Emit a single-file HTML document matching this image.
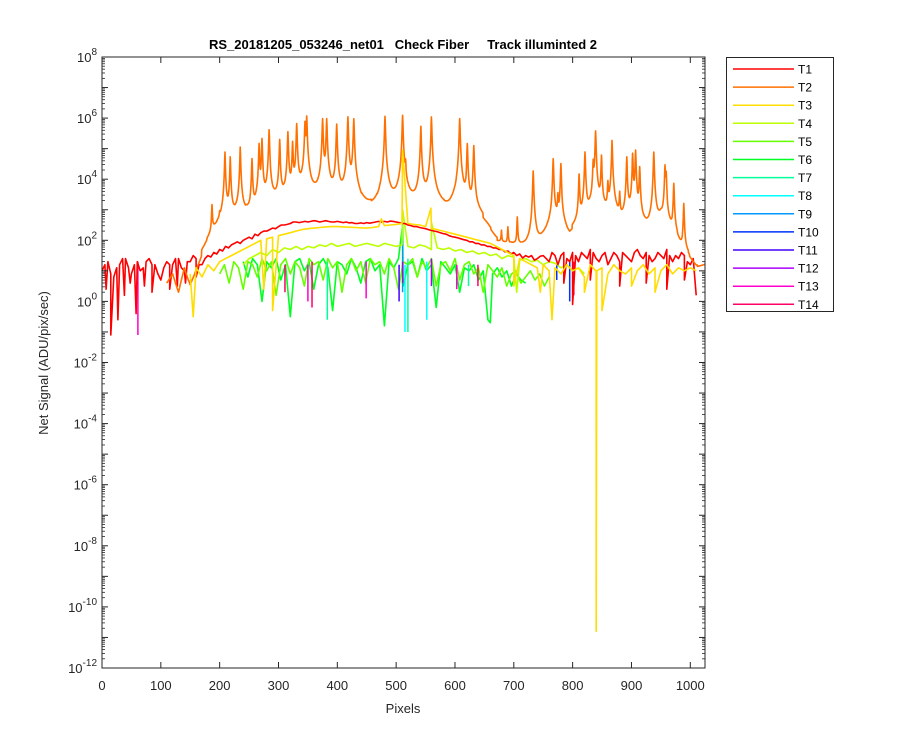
<!DOCTYPE html>
<html><head><meta charset="utf-8">
<style>
body{margin:0;background:#fff;}
svg text{font-family:"Liberation Sans",Arial,sans-serif;}
</style></head>
<body>
<svg id="chart" width="900" height="750" viewBox="0 0 900 750" xmlns="http://www.w3.org/2000/svg">
<rect width="900" height="750" fill="#fff"/>
<rect x="102" y="57" width="603" height="611" fill="#fff"/>
<g id="series"></g>
<g id="axes"></g>
<text x="403" y="49" text-anchor="middle" font-size="13" font-weight="bold" fill="#000" xml:space="preserve">RS_20181205_053246_net01   Check Fiber     Track illuminted 2</text>
<text x="403" y="713" text-anchor="middle" font-size="13" fill="#262626">Pixels</text>
<text x="0" y="0" transform="translate(48,363) rotate(-90)" text-anchor="middle" font-size="13" fill="#262626">Net Signal (ADU/pix/sec)</text>
<g id="legend"></g>
</svg>
<script>
// ---- data (log10 of signal) ----
const seriesNames=["T1","T2","T3","T4","T5","T6","T7","T8","T9","T10","T11","T12","T13","T14"];
const seriesColors=["#ff0000","#ff7000","#ffdd00","#bbff00","#66ff00","#00ff22","#00ff99","#00ffff","#0099ff","#0033ff","#4400ff","#aa00ff","#ff00cc","#ff0066"];
const xTicks=[0,100,200,300,400,500,600,700,800,900,1000];
const yTickExps=[8,6,4,2,0,-2,-4,-6,-8,-10,-12];

const t1Start=0, t1Step=5;
const t1Vals=[1.0,1.2,1.3,0.9,0.8,1.1,1.2,1.4,1.4,1.1,0.9,1.2,1.3,1.0,1.1,1.3,1.4,1.2,1.2,0.9,0.7,1.1,1.3,1.2,1.2,1.4,1.4,1.1,1.0,1.3,1.3,1.5,1.4,1.2,1.2,1.4,
1.5,1.45,1.6,1.55,1.7,1.65,1.8,1.75,1.85,1.9,1.95,1.9,2.0,2.05,2.1,2.05,2.2,2.15,2.25,2.3,2.3,2.35,2.4,2.38,2.45,2.5,2.5,2.52,2.55,2.6,2.6,2.58,2.6,
2.62,2.6,2.62,2.64,2.63,2.6,2.62,2.64,2.62,2.6,2.6,2.62,2.6,2.58,2.6,2.57,2.58,2.55,2.55,2.57,2.55,2.58,2.56,2.58,2.6,2.62,2.6,2.62,2.6,2.63,2.62,2.6,2.58,2.55,2.55,
2.5,2.48,2.45,2.45,2.42,2.4,2.38,2.35,2.32,2.3,2.28,2.25,2.22,2.2,2.15,2.12,2.1,2.08,2.05,2.02,2.0,1.95,1.95,1.9,1.9,1.85,1.85,1.8,1.8,1.75,1.75,1.7,1.7,1.62,1.65,1.55,1.6,1.5,1.55,1.42,1.5,1.45,1.5,1.35,1.4,1.48,
1.5,1.4,1.3,1.6,1.5,1.2,1.5,1.6,1.4,1.3,1.6,1.5,1.3,1.6,1.5,1.4,1.7,1.6,1.4,1.3,1.5,1.6,1.2,1.4,1.6,1.5,1.3,1.6,1.5,1.4,1.3,1.6,1.7,1.5,1.4,1.6,1.5,1.3,1.4,1.6,1.5,1.4,1.7,1.5,1.3,1.5,1.4,1.6,1.5,1.3,1.2,1.4];
const t1SpikeX=[7,15,27,38,48,58,72,85,100,115,128,142,160,785,800,830,880,925,960,990,1010];
const t1SpikeV=[0.4,-1.1,-0.6,0.2,0.6,-0.4,0.5,0.3,0.7,0.4,0.5,0.6,0.8,0.6,-0.1,0.7,0.5,0.6,0.4,0.7,0.2];

const t2BaseX=[110,120,130,140,150,160,170,180,190,200,210,230,255,280,300,330,360,390,410,440,455,470,495,525,550,575,590,610,640,655,670,695,720,742,760,772,787,795,810,829,850,882,900,930,950,975,985,1000,1010,1025];
const t2BaseV=[0.6,0.9,0.3,1.1,0.5,1.0,1.5,1.9,2.3,2.4,2.6,2.8,2.7,3.1,3.2,3.2,3.2,3.2,3.0,2.9,2.9,3.0,3.1,3.1,3.1,2.9,2.75,2.9,2.6,2.4,2.0,1.9,1.8,1.8,2.3,2.6,2.2,1.8,2.3,2.4,2.6,2.4,2.6,2.0,2.8,2.0,1.6,1.3,1.1,1.2];
const t2PeakX=[187,200,209,218,235,255,267,272,284,302,316,324,331,345,348,375,382,399,418,428,481,511,516,542,560,608,621,632,679,690,706,733,767,775,780,811,821,835,839,849,860,867,880,892,902,907,914,938,957,959,972,989];
const t2PeakV=[3.15,2.7,4.89,4.73,5.05,4.67,5.16,5.33,5.62,5.30,5.55,5.22,5.82,5.87,6.06,5.98,5.98,5.8,6.04,5.98,6.06,6.09,4.45,5.73,6.04,5.98,5.16,5.1,2.33,2.44,2.76,4.27,4.67,3.47,4.51,4.16,4.89,4.56,5.58,4.78,3.86,5.27,3.53,4.73,4.84,4.95,4.4,4.89,4.45,4.2,3.86,3.2];

const t3Start=150, t3Step=10;
const t3Vals=[0.9,1.1,0.8,1.2,1.0,1.3,1.4,1.5,1.6,1.7,1.8,1.9,2.0,2.05,2.1,2.15,2.2,2.25,2.3,2.35,2.38,2.4,2.42,2.44,2.45,2.45,2.44,2.43,2.42,2.41,2.4,2.42,2.45,2.48,2.5,2.52,2.55,2.55,2.52,2.5,2.45,2.4,2.35,2.3,2.25,2.2,2.15,2.1,2.05,2.0,1.95,1.9,1.8,1.7,1.6,1.5,1.4,1.3,1.2,1.1,1.2,1.0,1.1,0.9,1.2,1.0,1.1,0.8,1.2,1.0,1.1,0.9,1.2,1.0,0.9,1.1,1.0,1.2,0.9,1.1,1.0,1.2,0.9,1.1,1.0,1.1,1.0];
const t3SpikeX=[155,275,290,475,511,559,700,745,765,820,839,840,841,850,900,940];
const t3SpikeV=[-0.5,0.4,-0.3,2.7,4.95,3.05,0.5,0.3,-0.6,0.3,1.0,-10.8,1.0,-0.3,0.5,0.3];

const t4Start=240, t4Step=10;
const t4Vals=[1.2,1.4,1.5,1.6,1.5,1.7,1.6,1.75,1.7,1.8,1.7,1.8,1.75,1.85,1.8,1.9,1.8,1.85,1.9,1.8,1.85,1.9,1.85,1.8,1.9,1.85,1.8,1.85,1.8,1.75,1.85,1.8,1.7,1.75,1.7,1.75,1.65,1.7,1.6,1.65,1.55,1.6,1.5,1.55,1.4,1.5,1.45,1.35,1.4,1.3,1.35,1.2,1.3,1.25,1.1,1.2,1.0,1.1,0.9];
const t4SpikeX=[511,560,705];
const t4SpikeV=[3.0,2.6,0.3];

const t5Start=200, t5Step=8;
const t5Vals=[0.9,1.2,0.6,1.3,1.1,0.4,1.3,1.2,0.8,1.4,1.0,1.3,0.2,1.2,1.4,0.9,1.3,1.1,0.5,1.4,1.2,1.3,0.7,1.4,1.1,1.3,0.3,1.2,1.4,1.0,1.3,0.6,1.4,1.2,1.3,0.9,1.4,1.1,0.4,1.3,1.2,1.4,0.8,1.3,1.1,1.4,0.5,1.2,1.3,1.0,1.4,0.7,1.2,1.3,0.9,1.1,0.3,1.2,1.0,0.8,1.1,0.5,0.9,1.0,0.6,0.8,1.0,0.7,0.9,0.5,0.8];

const t6Start=240, t6Step=8;
const t6Vals=[1.3,0.8,1.4,1.2,0.0,1.3,1.1,1.4,0.7,1.2,-0.5,1.3,1.4,1.0,1.3,0.4,1.2,1.4,1.1,-0.3,1.3,1.2,0.9,1.4,1.1,0.6,1.3,1.4,1.0,1.2,-0.8,1.3,1.1,1.4,0.5,1.2,1.3,0.8,1.4,1.0,1.2,-0.2,1.3,1.1,0.9,1.2,0.3,1.1,1.0,1.2,0.7,1.0,-0.6,0.9,1.1,0.8,1.0,0.5,0.9,0.7,0.6];
const t6SpikeX=[511,660];
const t6SpikeV=[2.5,-0.7];

// sporadic spikes for T7..T14: x, top, bottom
const spikeX=[[383,520,623],[515,552],[511],[773,795],[505],[511,560],[61,350,449,603],[311,357,639,802]];
const spikeTop=[[1.3,1.4,1.2],[1.2,1.3],[2.0],[1.2,1.3],[1.2],[1.3,1.4],[1.3,1.2,1.3,1.2],[1.2,1.3,1.2,1.3]];
const spikeBot=[[-0.6,-1.0,0.5],[-1.0,-0.6],[0.3],[0.7,0.0],[0.0],[0.6,0.5],[-1.1,0.0,0.1,0.4],[0.3,-0.2,0.5,0.2]];

// ---- axes ----
const L=102,R=705,T=57,B=668,XMIN=0,XMAX=1025,YMIN=-12,YMAX=8;
const sx=x=>L+(x-XMIN)/(XMAX-XMIN)*(R-L);
const sy=v=>B-(v-YMIN)/(YMAX-YMIN)*(B-T);
const NS="http://www.w3.org/2000/svg";
const sg=document.getElementById('series');
function mergeSeries(start,step,vals,spx,spv){
  const pts=vals.map((v,i)=>[start+i*step,v]);
  if(spx) spx.forEach((x,i)=>pts.push([x,spv[i]]));
  pts.sort((a,b)=>a[0]-b[0]);
  return pts;
}
function drawLine(pts,color,name){
  const p=document.createElementNS(NS,'polyline');
  p.setAttribute('points',pts.map(q=>sx(q[0]).toFixed(1)+','+sy(q[1]).toFixed(1)).join(' '));
  p.setAttribute('fill','none');p.setAttribute('stroke',color);p.setAttribute('stroke-width','1.6');
  p.setAttribute('stroke-linejoin','round');
  
  
  sg.appendChild(p);
}
function baseAt(x){
  for(let i=0;i<t2BaseX.length-1;i++){if(x>=t2BaseX[i]&&x<=t2BaseX[i+1]){const f=(x-t2BaseX[i])/(t2BaseX[i+1]-t2BaseX[i]);return t2BaseV[i]+f*(t2BaseV[i+1]-t2BaseV[i]);}}
  return t2BaseV[t2BaseV.length-1];
}
// T2: continuum + narrow Lorentzian lines at listed peaks
const t2Pts=[];
for(let x=t2BaseX[0];x<=t2BaseX[t2BaseX.length-1];x+=0.5){
  let lin=Math.pow(10,baseAt(x));
  t2PeakX.forEach((xp,i)=>{if(Math.abs(x-xp)<40){const d=(x-xp)/0.6;lin+=(Math.pow(10,t2PeakV[i])-Math.pow(10,baseAt(xp)))/(1+d*d);}});
  t2Pts.push([x,Math.log10(lin)]);
}

drawLine(mergeSeries(t6Start,t6Step,t6Vals,t6SpikeX,t6SpikeV),seriesColors[5],'series-t6');
drawLine(mergeSeries(t5Start,t5Step,t5Vals),seriesColors[4],'series-t5');
spikeX.forEach((xs,k)=>{xs.forEach((x,i)=>{
  const l=document.createElementNS(NS,'line');
  l.setAttribute('x1',sx(x));l.setAttribute('x2',sx(x));
  l.setAttribute('y1',sy(spikeTop[k][i]));l.setAttribute('y2',sy(spikeBot[k][i]));
  l.setAttribute('stroke',seriesColors[6+k]);l.setAttribute('stroke-width','1.5');
  
  
  sg.appendChild(l);
});});
drawLine(mergeSeries(t4Start,t4Step,t4Vals,t4SpikeX,t4SpikeV),seriesColors[3],'series-t4');
drawLine(mergeSeries(t1Start,t1Step,t1Vals,t1SpikeX,t1SpikeV),seriesColors[0],'series-t1');
drawLine(t2Pts,seriesColors[1],'series-t2');
drawLine(mergeSeries(t3Start,t3Step,t3Vals,t3SpikeX,t3SpikeV),seriesColors[2],'series-t3');

// axes box & ticks
const ax=document.getElementById('axes');
let h='<rect x="'+L+'" y="'+T+'" width="'+(R-L)+'" height="'+(B-T)+'" fill="none" stroke="#262626" stroke-width="1"/>';
xTicks.forEach(t=>{const x=sx(t);
  h+='<line x1="'+x+'" x2="'+x+'" y1="'+B+'" y2="'+(B-6)+'" stroke="#262626"/><line x1="'+x+'" x2="'+x+'" y1="'+T+'" y2="'+(T+6)+'" stroke="#262626"/>';
  h+='<text x="'+x+'" y="'+(B+22)+'" text-anchor="middle" font-size="13" fill="#262626">'+t+'</text>';});
for(let e=YMIN;e<=YMAX;e++){const y=sy(e);
  h+='<line x1="'+L+'" x2="'+(L+6)+'" y1="'+y+'" y2="'+y+'" stroke="#262626"/><line x1="'+R+'" x2="'+(R-6)+'" y1="'+y+'" y2="'+y+'" stroke="#262626"/>';
  if(e<YMAX){for(let m=2;m<10;m++){const ym=sy(e+Math.log10(m));
    h+='<line x1="'+L+'" x2="'+(L+3)+'" y1="'+ym+'" y2="'+ym+'" stroke="#262626" stroke-width="0.8"/><line x1="'+R+'" x2="'+(R-3)+'" y1="'+ym+'" y2="'+ym+'" stroke="#262626" stroke-width="0.8"/>';}}}
yTickExps.forEach(e=>{const y=sy(e);
  h+='<text x="'+(L-5)+'" y="'+(y+5)+'" text-anchor="end" font-size="13" fill="#262626">10<tspan dy="-7" font-size="10">'+e+'</tspan></text>';});
ax.innerHTML=h;

// legend
const lg=document.getElementById('legend');
let g='<rect x="726.5" y="57.5" width="107" height="254" fill="#fff" stroke="#262626" stroke-width="1"/>';
seriesNames.forEach((n,i)=>{const y=69+i*18.1;
  g+='<g><line x1="733" x2="794" y1="'+y+'" y2="'+y+'" stroke="'+seriesColors[i]+'" stroke-width="1.5"/><text x="798" y="'+(y+4.5)+'" font-size="12" fill="#000">'+n+'</text></g>';});
lg.innerHTML=g;
</script>
</body></html>
